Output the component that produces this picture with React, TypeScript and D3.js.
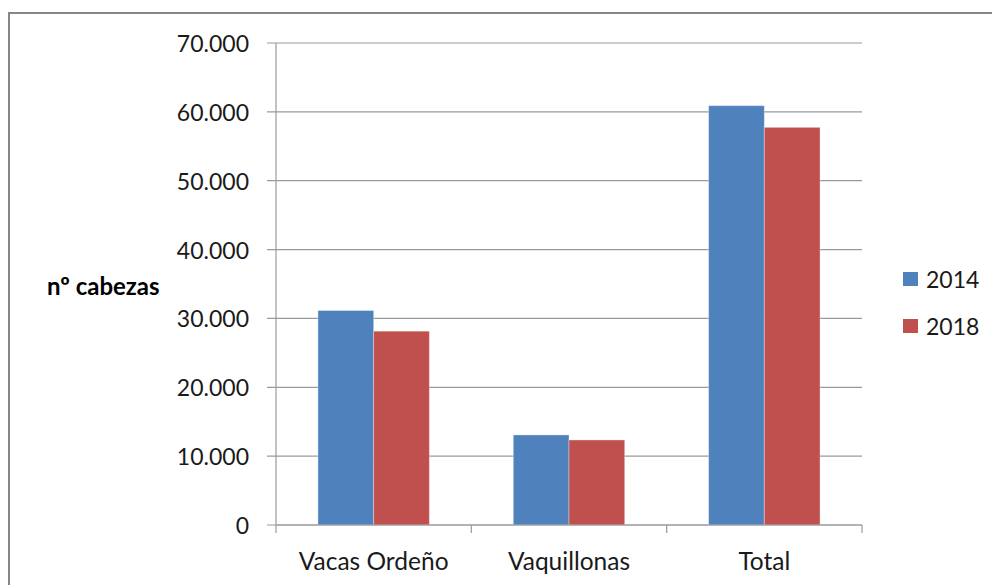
import React from "react";
import * as d3 from "d3";

const categories = ["Vacas Ordeño", "Vaquillonas", "Total"];
const seriesNames = ["2014", "2018"];
const values2014 = [31150, 13080, 60900];
const values2018 = [28150, 12350, 57750];
const yTicks = [0, 10000, 20000, 30000, 40000, 50000, 60000, 70000];
const colors = ["#4F81BD", "#C0504D"];

const W = 992;
const H = 585;
const left = 276;
const right = 862;
const top = 43;
const bottom = 525;
const font = "Lato, 'Open Sans', sans-serif";

export default function App() {
  const x0 = d3.scaleBand<string>().domain(categories).range([left, right]).padding(0);
  const x1 = d3
    .scaleBand<string>()
    .domain(seriesNames)
    .range([0, x0.bandwidth()])
    .paddingInner(0)
    .paddingOuter(0.753);
  const y = d3.scaleLinear().domain([0, 70000]).range([bottom, top]);
  const fmt = (v: number) => d3.format(",")(v).replace(/,/g, ".");
  const seriesValues = [values2014, values2018];

  return (
    <svg
      width={W}
      height={H}
      style={{ position: "fixed", left: 0, top: 0, background: "#fff" }}
    >
      <rect x={0} y={0} width={W} height={H} fill="#fff" />
      <rect x={9} y={13} width={W + 20} height={H + 20} fill="none" stroke="#868686" strokeWidth={2} />
      {/* gridlines */}
      {yTicks.map((t) => (
        <g key={t}>
          <line x1={left - 9} x2={right} y1={y(t)} y2={y(t)} stroke="#9a9a9a" strokeWidth={1.2} />
          <text
            x={249}
            y={y(t)}
            textAnchor="end"
            dominantBaseline="central"
            fontFamily={font}
            fontSize={23}
            fill="#1a1a1a"
          >
            {fmt(t)}
          </text>
        </g>
      ))}
      {/* y axis */}
      <line x1={left} x2={left} y1={top} y2={bottom} stroke="#9a9a9a" strokeWidth={1.2} />
      {/* bars */}
      {categories.map((c, i) => (
        <g key={c} transform={`translate(${x0(c)},0)`}>
          {seriesNames.map((s, j) => (
            <rect
              key={s}
              x={x1(s)}
              y={y(seriesValues[j][i])}
              width={x1.bandwidth()}
              height={y(0) - y(seriesValues[j][i])}
              fill={colors[j]}
              stroke="rgba(255,255,255,0.35)"
              strokeWidth={1}
            />
          ))}
        </g>
      ))}
      {/* x axis */}
      <line x1={left} x2={right} y1={bottom} y2={bottom} stroke="#9a9a9a" strokeWidth={1.2} />
      {[...categories.map((c) => x0(c)!), right].map((xv, i) => (
        <line key={i} x1={xv} x2={xv} y1={bottom} y2={bottom + 8} stroke="#9a9a9a" strokeWidth={1.2} />
      ))}
      {categories.map((c) => (
        <text
          key={c}
          x={x0(c)! + x0.bandwidth() / 2}
          y={570}
          textAnchor="middle"
          fontFamily={font}
          fontSize={24.5}
          fill="#1a1a1a"
        >
          {c}
        </text>
      ))}
      {/* y label */}
      <text x={47} y={285} dominantBaseline="central" fontFamily={font} fontSize={24} fontWeight="bold" fill="#000">
        nº cabezas
      </text>
      {/* legend */}
      {seriesNames.map((s, j) => (
        <g key={s} transform={`translate(903,${272 + j * 47})`}>
          <rect x={0} y={0} width={15} height={14} fill={colors[j]} />
          <text x={23} y={7} dominantBaseline="central" fontFamily={font} fontSize={23} fill="#1a1a1a">
            {s}
          </text>
        </g>
      ))}
    </svg>
  );
}
